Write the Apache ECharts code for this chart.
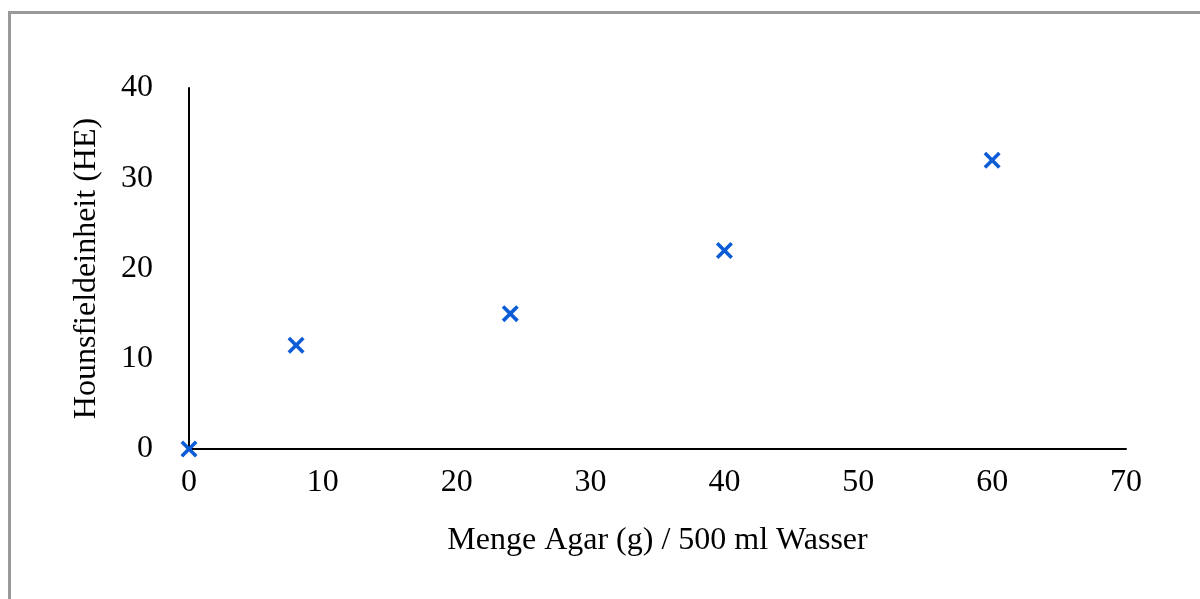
<!DOCTYPE html>
<html>
<head>
<meta charset="utf-8">
<script src="https://cdn.jsdelivr.net/npm/echarts@6/dist/echarts.min.js"></script>
<style>
html,body{margin:0;padding:0;background:#fff;}
#chart{width:1200px;height:599px;}
</style>
</head>
<body>
<div id="chart"></div>
<script>
const agarGrams = [0, 8, 24, 40, 60];
const hounsfieldUnits = [0, 11.5, 15, 22, 32];
const xAxisTitle = 'Menge Agar (g) / 500 ml Wasser';
const yAxisTitle = 'Hounsfieldeinheit (HE)';

const points = agarGrams.map((x, i) => [x, hounsfieldUnits[i]]);
const font = '"Liberation Serif", "Times New Roman", serif';
const crossPath = 'path://M1.5,0 L5,3.5 L8.5,0 L10,1.5 L6.5,5 L10,8.5 L8.5,10 L5,6.5 L1.5,10 L0,8.5 L3.5,5 L0,1.5 Z';

const chart = echarts.init(document.getElementById('chart'), null, {renderer: 'canvas'});
chart.setOption({
  animation: false,
  backgroundColor: '#fff',
  graphic: [{
    type: 'rect',
    shape: {x: 9.5, y: 12.5, width: 1300, height: 700},
    style: {fill: 'none', stroke: '#999999', lineWidth: 3},
    z: 0
  }],
  grid: {left: 189, right: 74, top: 88, bottom: 150, containLabel: false},
  xAxis: {
    type: 'value',
    min: 0, max: 70, interval: 10,
    name: xAxisTitle,
    nameLocation: 'middle',
    nameGap: 92,
    nameTextStyle: {fontFamily: font, fontSize: 32, color: '#000', verticalAlign: 'middle'},
    axisLine: {show: true, onZero: false, lineStyle: {color: '#000', width: 2}},
    axisTick: {show: false},
    splitLine: {show: false},
    axisLabel: {fontFamily: font, fontSize: 32, color: '#000', margin: 18}
  },
  yAxis: {
    type: 'value',
    min: 0, max: 40, interval: 10,
    name: yAxisTitle,
    nameLocation: 'middle',
    nameGap: 102,
    nameRotate: 90,
    nameTextStyle: {fontFamily: font, fontSize: 32, color: '#000', verticalAlign: 'middle'},
    axisLine: {show: true, lineStyle: {color: '#000', width: 2}},
    axisTick: {show: false},
    splitLine: {show: false},
    axisLabel: {fontFamily: font, fontSize: 32, color: '#000', margin: 36}
  },
  series: [{
    type: 'scatter',
    data: points,
    symbol: crossPath,
    symbolSize: 17,
    clip: false,
    z: 10,
    itemStyle: {color: '#0b5cd6', opacity: 1}
  }]
});
</script>
</body>
</html>
